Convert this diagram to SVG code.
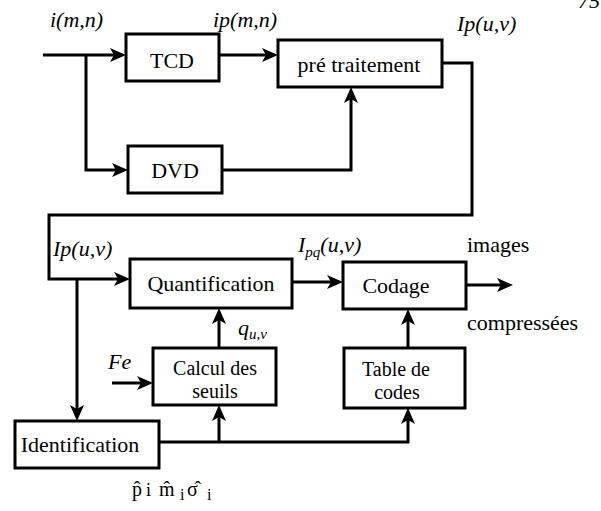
<svg xmlns="http://www.w3.org/2000/svg" width="601" height="511" viewBox="0 0 601 511">
<defs>
<marker id="arr" markerUnits="userSpaceOnUse" markerWidth="18" markerHeight="14" refX="12" refY="7" orient="auto" overflow="visible">
<path d="M0,0 L16,7 L0,14 L4,7 Z" fill="#000"/>
</marker>
<style>
rect.box{fill:#fff;stroke:#000;stroke-width:3}
.t{font-size:22px}
.s{font-size:20px}
.c{text-anchor:middle}
.i{font-style:italic}
.ln{fill:none;stroke:#000;stroke-width:3;stroke-linejoin:miter}
.a{marker-end:url(#arr)}
</style>
</defs>
<rect width="601" height="511" fill="#fff"/>
<g font-family="Liberation Serif, Times New Roman, serif" fill="#000">
<text class="t i" x="578" y="8">75</text>
<g id="connectors">
<path class="ln a" d="M43,55 L122,55"/>
<path class="ln a" d="M86,55 L86,170 L124,170"/>
<path class="ln a" d="M219,55 L274,55"/>
<path class="ln a" d="M222,170 L351,170 L351,91"/>
<path class="ln a" d="M442,63 L472,63 L472,215 L49,215 L49,279 L126,279"/>
<path class="ln a" d="M77,279 L77,417"/>
<path class="ln a" d="M292,282 L339,282"/>
<path class="ln a" d="M466,285 L509,285"/>
<path class="ln a" d="M219,348 L219,312"/>
<path class="ln a" d="M408,348 L408,313"/>
<path class="ln a" d="M112,383 L149,383"/>
<path class="ln a" d="M159,442 L408,442 L408,412"/>
<path class="ln a" d="M219,442 L219,409"/>
</g>
<g id="tcd"><rect class="box" x="126" y="34" width="93" height="47"/><text class="t c" x="172" y="68">TCD</text></g>
<g id="dvd"><rect class="box" x="128" y="146" width="94" height="47"/><text class="t c" x="175" y="178">DVD</text></g>
<g id="pretraitement"><rect class="box" x="278" y="40" width="164" height="47"/><text class="t c" x="359" y="72">pré traitement</text></g>
<g id="quantification"><rect class="box" x="130" y="259" width="162" height="49"/><text class="t c" x="211" y="291">Quantification</text></g>
<g id="codage"><rect class="box" x="343" y="262" width="123" height="47"/><text class="t c" x="396" y="293">Codage</text></g>
<g id="calcul"><rect class="box" x="153" y="348" width="123" height="57"/><text class="s c" x="215" y="375">Calcul des</text><text class="s c" x="215" y="398">seuils</text></g>
<g id="table"><rect class="box" x="344" y="348" width="121" height="60"/><text class="s c" x="396" y="376">Table de</text><text class="s c" x="397" y="399">codes</text></g>
<g id="identification"><rect class="box" x="15" y="421" width="144" height="47"/><text class="t c" x="80" y="452">Identification</text></g>
<g id="labels">
<text class="t i" x="50" y="27">i(m,n)</text>
<text class="t i" x="213" y="27">ip(m,n)</text>
<text class="t i" x="457" y="31">Ip(u,v)</text>
<text class="t i" x="53" y="256">Ip(u,v)</text>
<text class="t i" x="298" y="252">I<tspan font-size="15" dy="5">pq</tspan><tspan dy="-5">(u,v)</tspan></text>
<text class="t" x="467" y="252">images</text>
<text class="t" x="467" y="330">compressées</text>
<text class="t i" x="238" y="335">q<tspan font-size="15" dy="4">u,v</tspan></text>
<text class="t i" x="108" y="369">Fe</text>
<text class="s" y="496"><tspan x="132">p̂</tspan><tspan x="146" font-size="18">i</tspan><tspan x="159">m̂</tspan><tspan x="180" y="500" font-size="16">i</tspan><tspan x="187" y="496">σ̂</tspan><tspan x="207" y="500" font-size="16">i</tspan></text>
</g>
</g>
</svg>
